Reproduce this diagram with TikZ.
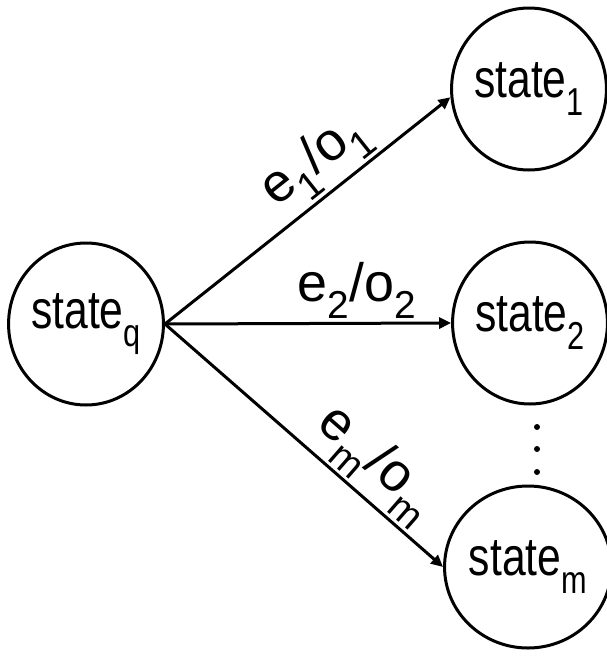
\documentclass[tikz,border=0pt]{standalone}
\usepackage{fontspec}
\setmainfont{Liberation Sans}
\usetikzlibrary{shapes.geometric,arrows.meta}
\newcommand\sbs[1]{\raisebox{-0.32em}{\scalebox{0.72}{#1}}}
\newcommand\stname[1]{\scalebox{0.82}[1.04]{state\sbs{#1}}}
\tikzset{
  stnode/.style={ellipse, draw, line width=3pt, minimum width=142pt, minimum height=162pt, inner sep=0pt, font=\fontsize{52}{60}\selectfont},
  trans/.style={line width=3pt, -{Triangle[length=12pt,width=11pt]}},
  lbl/.style={font=\fontsize{54}{60}\selectfont, sloped, above, inner sep=3pt},
  dotc/.style={circle, fill=black, minimum size=6pt, inner sep=0pt}
}
\begin{document}
\begin{tikzpicture}[x=1pt,y=-1pt]
\useasboundingbox (0,0) rectangle (606,656);
\node[stnode] (q) at (86,324) {\stname{q}};
\node[stnode] (s1) at (529,89) {\stname{1}};
\node[stnode] (s2) at (530,323) {\stname{2}};
\node[stnode] (sm) at (528,567) {\stname{m}};
\draw[trans] (q.east) -- node[lbl, pos=0.6] {e\sbs{1}/o\sbs{1}} (s1.186);
\draw[trans] (q.east) -- node[lbl, pos=0.67] {e\sbs{2}/o\sbs{2}} (s2.west);
\draw[trans] (q.east) -- node[lbl, pos=0.68] {e\sbs{m}/o\sbs{m}} (sm.west);
\node[dotc] (d1) at (537,427) {};
\node[dotc] (d2) at (537,449) {};
\node[dotc] (d3) at (537,472) {};
\end{tikzpicture}
\end{document}
